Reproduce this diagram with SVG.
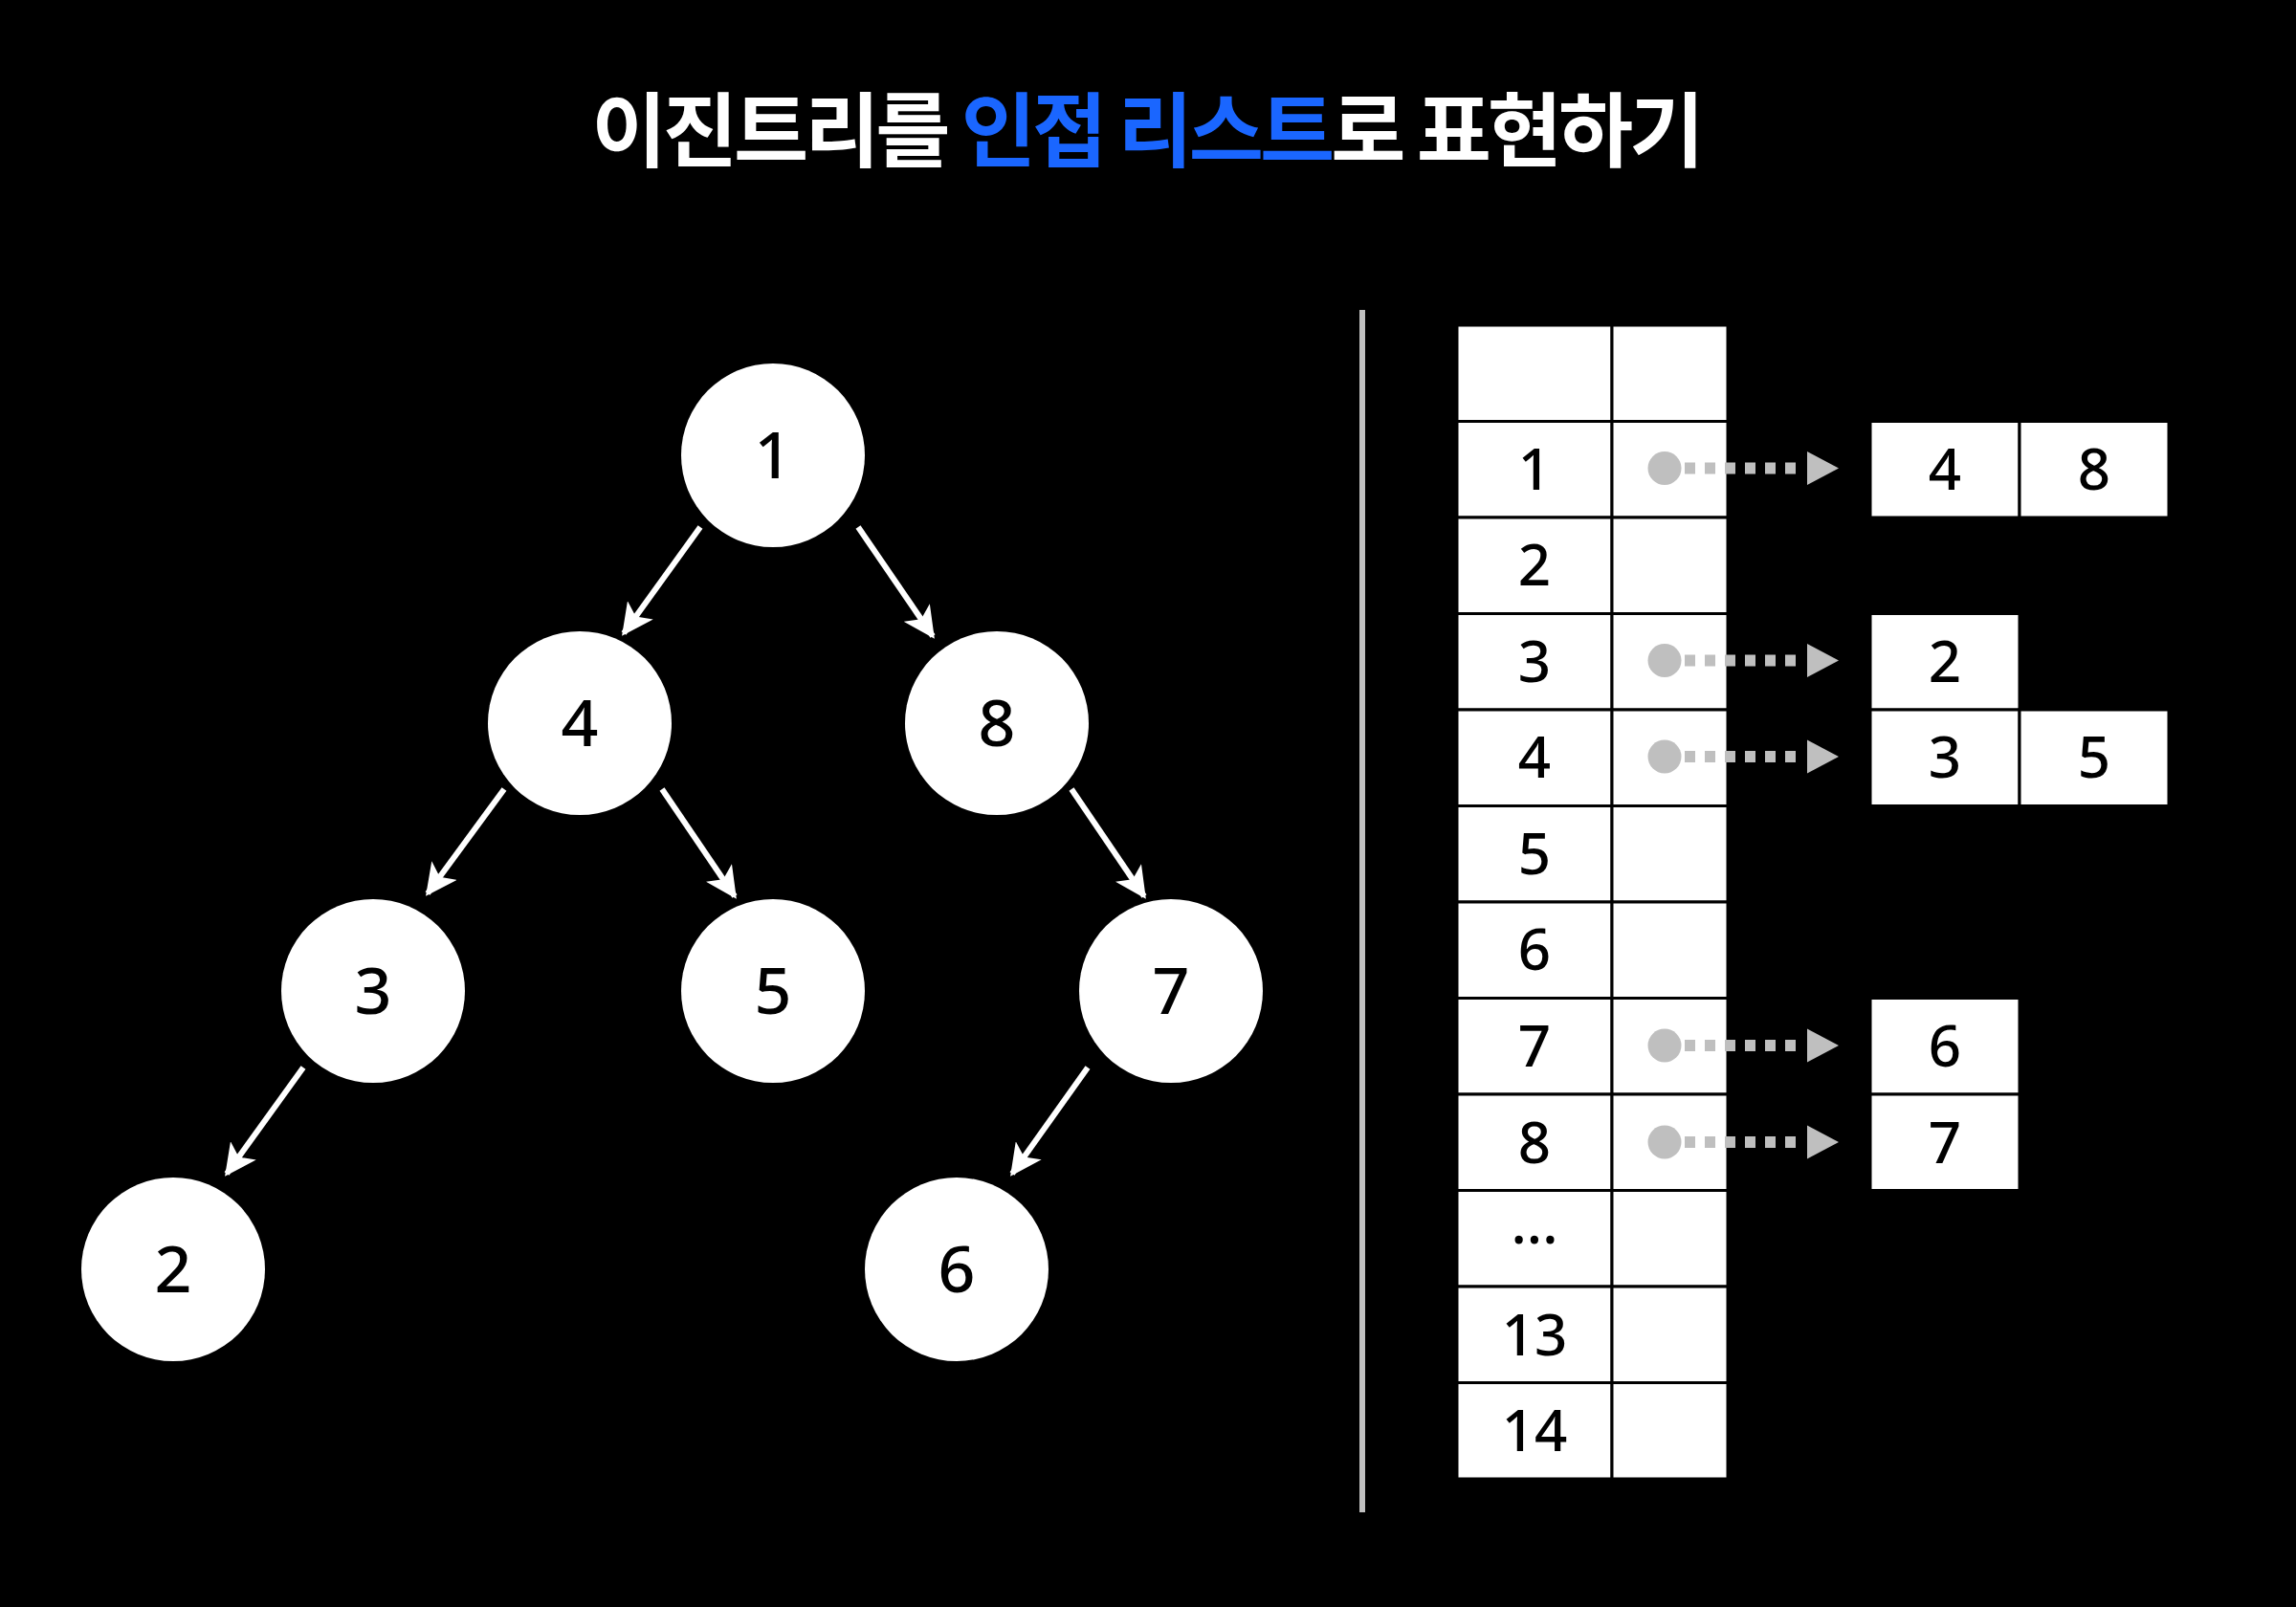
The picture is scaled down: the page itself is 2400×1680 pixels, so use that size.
<svg xmlns="http://www.w3.org/2000/svg" width="2400" height="1680" viewBox="0 0 2400 1680">
<style>
.title{font-family:"Noto Sans CJK KR","Noto Sans",sans-serif;font-size:85px;font-weight:700;letter-spacing:-4px}
.w{fill:#ffffff}
.b{fill:#1a66ff}
.node circle{fill:#ffffff}
.nt{font-family:"Noto Sans","DejaVu Sans",sans-serif;font-size:68px;font-weight:500;fill:#000000;text-anchor:middle}
.cell{fill:#ffffff;stroke:#000000;stroke-width:3}
.ct{font-family:"Noto Sans","DejaVu Sans",sans-serif;font-size:60px;font-weight:500;fill:#000000;text-anchor:middle}
.edge{stroke:#ffffff;stroke-width:6;fill:none;marker-end:url(#ah)}
.dot{fill:#bfbfbf}
.dash{stroke:#bfbfbf;stroke-width:12;stroke-dasharray:11 10;fill:none}
.tri{fill:#bfbfbf}
</style>
<defs>
<marker id="ah" viewBox="0 0 10 10" refX="9" refY="5" markerWidth="5.5" markerHeight="5.5" orient="auto" markerUnits="strokeWidth">
<path d="M0,0 L10,5 L0,10 L2.5,5 Z" fill="#ffffff"/>
</marker>
</defs>
<rect x="0" y="0" width="2400" height="1680" fill="#000000"/>
<text class="title" x="1198" y="168" text-anchor="middle"><tspan class="w">이진트리를 </tspan><tspan class="b">인접 리스트</tspan><tspan class="w">로 표현하기</tspan></text>

<g id="connectors">
<line class="edge" x1="732" y1="551" x2="652" y2="662"/>
<line class="edge" x1="897" y1="551" x2="975" y2="665"/>
<line class="edge" x1="527" y1="825" x2="447" y2="934"/>
<line class="edge" x1="692" y1="825" x2="768" y2="937"/>
<line class="edge" x1="1120" y1="825" x2="1196" y2="937"/>
<line class="edge" x1="317" y1="1116" x2="237" y2="1227"/>
<line class="edge" x1="1137" y1="1116" x2="1058" y2="1227"/>
</g>

<g id="node-1" class="node"><circle cx="808" cy="476" r="96"/><text class="nt" x="808" y="500">1</text></g>
<g id="node-4" class="node"><circle cx="606" cy="756" r="96"/><text class="nt" x="606" y="780">4</text></g>
<g id="node-8" class="node"><circle cx="1042" cy="756" r="96"/><text class="nt" x="1042" y="780">8</text></g>
<g id="node-3" class="node"><circle cx="390" cy="1036" r="96"/><text class="nt" x="390" y="1060">3</text></g>
<g id="node-5" class="node"><circle cx="808" cy="1036" r="96"/><text class="nt" x="808" y="1060">5</text></g>
<g id="node-7" class="node"><circle cx="1224" cy="1036" r="96"/><text class="nt" x="1224" y="1060">7</text></g>
<g id="node-2" class="node"><circle cx="181" cy="1327" r="96"/><text class="nt" x="181" y="1351">2</text></g>
<g id="node-6" class="node"><circle cx="1000" cy="1327" r="96"/><text class="nt" x="1000" y="1351">6</text></g>

<rect id="divider" x="1421" y="324" width="6" height="1257" fill="#c0c0c0"/>

<g id="table">
<rect class="cell" x="1523" y="340" width="162" height="100.5"/><rect class="cell" x="1685" y="340" width="121" height="100.5"/>
<rect class="cell" x="1523" y="440.5" width="162" height="100.5"/><rect class="cell" x="1685" y="440.5" width="121" height="100.5"/>
<rect class="cell" x="1523" y="541" width="162" height="100.5"/><rect class="cell" x="1685" y="541" width="121" height="100.5"/>
<rect class="cell" x="1523" y="641.5" width="162" height="100.5"/><rect class="cell" x="1685" y="641.5" width="121" height="100.5"/>
<rect class="cell" x="1523" y="742" width="162" height="100.5"/><rect class="cell" x="1685" y="742" width="121" height="100.5"/>
<rect class="cell" x="1523" y="842.5" width="162" height="100.5"/><rect class="cell" x="1685" y="842.5" width="121" height="100.5"/>
<rect class="cell" x="1523" y="943" width="162" height="100.5"/><rect class="cell" x="1685" y="943" width="121" height="100.5"/>
<rect class="cell" x="1523" y="1043.5" width="162" height="100.5"/><rect class="cell" x="1685" y="1043.5" width="121" height="100.5"/>
<rect class="cell" x="1523" y="1144" width="162" height="100.5"/><rect class="cell" x="1685" y="1144" width="121" height="100.5"/>
<rect class="cell" x="1523" y="1244.5" width="162" height="100.5"/><rect class="cell" x="1685" y="1244.5" width="121" height="100.5"/>
<rect class="cell" x="1523" y="1345" width="162" height="100.5"/><rect class="cell" x="1685" y="1345" width="121" height="100.5"/>
<rect class="cell" x="1523" y="1445.5" width="162" height="100.5"/><rect class="cell" x="1685" y="1445.5" width="121" height="100.5"/>
<text class="ct" x="1604" y="512">1</text>
<text class="ct" x="1604" y="612">2</text>
<text class="ct" x="1604" y="713">3</text>
<text class="ct" x="1604" y="813">4</text>
<text class="ct" x="1604" y="914">5</text>
<text class="ct" x="1604" y="1014">6</text>
<text class="ct" x="1604" y="1115">7</text>
<text class="ct" x="1604" y="1216">8</text>
<text class="ct" x="1604" y="1300">...</text>
<text class="ct" x="1604" y="1417">13</text>
<text class="ct" x="1604" y="1517">14</text>
</g>

<g id="pointers">
<circle class="dot" cx="1740" cy="489.5" r="17.5"/><line class="dash" x1="1761" y1="489.5" x2="1877" y2="489.5"/><polygon class="tri" points="1889,472 1922,489.5 1889,507"/>
<circle class="dot" cx="1740" cy="690.5" r="17.5"/><line class="dash" x1="1761" y1="690.5" x2="1877" y2="690.5"/><polygon class="tri" points="1889,673 1922,690.5 1889,708"/>
<circle class="dot" cx="1740" cy="791" r="17.5"/><line class="dash" x1="1761" y1="791" x2="1877" y2="791"/><polygon class="tri" points="1889,773.5 1922,791 1889,808.5"/>
<circle class="dot" cx="1740" cy="1093" r="17.5"/><line class="dash" x1="1761" y1="1093" x2="1877" y2="1093"/><polygon class="tri" points="1889,1075.5 1922,1093 1889,1110.5"/>
<circle class="dot" cx="1740" cy="1194" r="17.5"/><line class="dash" x1="1761" y1="1194" x2="1877" y2="1194"/><polygon class="tri" points="1889,1176.5 1922,1194 1889,1211.5"/>
</g>

<g id="list-1">
<rect class="cell" x="1955" y="440.5" width="156" height="100.5"/><rect class="cell" x="2111" y="440.5" width="156" height="100.5"/>
<text class="ct" x="2033" y="512">4</text><text class="ct" x="2189" y="512">8</text>
</g>
<g id="list-3">
<rect class="cell" x="1955" y="641.5" width="156" height="100.5"/>
<text class="ct" x="2033" y="713">2</text>
</g>
<g id="list-4">
<rect class="cell" x="1955" y="742" width="156" height="100.5"/><rect class="cell" x="2111" y="742" width="156" height="100.5"/>
<text class="ct" x="2033" y="813">3</text><text class="ct" x="2189" y="813">5</text>
</g>
<g id="list-7">
<rect class="cell" x="1955" y="1043.5" width="156" height="100.5"/>
<text class="ct" x="2033" y="1115">6</text>
</g>
<g id="list-8">
<rect class="cell" x="1955" y="1144" width="156" height="100.5"/>
<text class="ct" x="2033" y="1216">7</text>
</g>
</svg>
